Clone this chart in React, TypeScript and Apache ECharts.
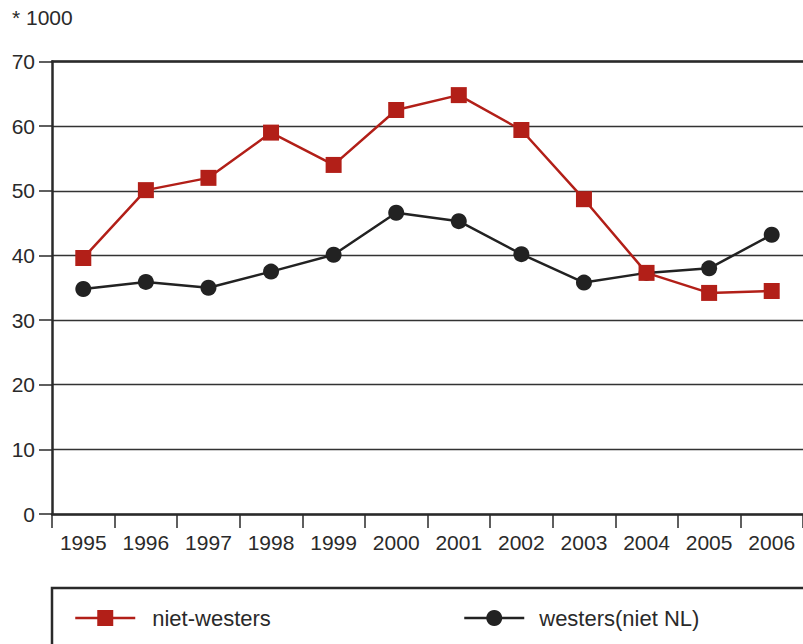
import React, { useEffect, useRef } from "react";
import * as echarts from "echarts";

const years = ["1995", "1996", "1997", "1998", "1999", "2000", "2001", "2002", "2003", "2004", "2005", "2006"];
const nietWesters = [39.6, 50.1, 52.0, 59.0, 54.0, 62.5, 64.8, 59.4, 48.7, 37.3, 34.2, 34.5];
const westers = [34.8, 35.9, 35.0, 37.5, 40.1, 46.6, 45.3, 40.2, 35.8, 37.3, 38.0, 43.2];
const unitLabel = "* 1000";

const FONT = "Liberation Sans";
const DARK = "#2a2a2a";
const RED = "#b21f18";

export default function App() {
  const ref = useRef<HTMLDivElement>(null);
  useEffect(() => {
    const chart = echarts.init(ref.current!, undefined, { renderer: "svg" });
    chart.setOption({
      animation: false,
      textStyle: { fontFamily: FONT },
      grid: { left: 52, top: 61.5, bottom: 130, width: 756, containLabel: false },
      graphic: [
        { type: "text", left: 12, top: 7, style: { text: unitLabel, font: `21px ${FONT}`, fill: DARK } },
        {
          type: "rect",
          shape: { x: 52, y: 588, width: 800, height: 120 },
          style: { fill: "none", stroke: DARK, lineWidth: 2.5 },
        },
      ],
      legend: [
        {
          data: ["niet-westers"],
          left: 69,
          top: 602,
          itemWidth: 60,
          itemHeight: 20,
          lineStyle: { width: 2.5 },
          textStyle: { fontSize: 22, color: DARK, fontFamily: FONT, padding: [0, 0, 0, 12] },
        },
        {
          data: ["westers(niet NL)"],
          left: 458,
          top: 602,
          itemWidth: 60,
          itemHeight: 20,
          lineStyle: { width: 2.5 },
          textStyle: { fontSize: 22, color: DARK, fontFamily: FONT, padding: [0, 0, 0, 10] },
        },
      ],
      xAxis: [
        {
          type: "category",
          data: years,
          boundaryGap: true,
          axisLine: { lineStyle: { color: DARK, width: 2.5 } },
          axisTick: { show: true, length: 14, lineStyle: { color: DARK, width: 1.5 } },
          axisLabel: { fontSize: 21, color: DARK, margin: 18, fontFamily: FONT },
        },
        {
          type: "category",
          data: years,
          position: "top",
          axisLine: { lineStyle: { color: DARK, width: 2.5 } },
          axisTick: { show: false },
          axisLabel: { show: false },
        },
      ],
      yAxis: {
        type: "value",
        min: 0,
        max: 70,
        interval: 10,
        axisLine: { show: true, lineStyle: { color: DARK, width: 2.5 } },
        axisTick: { show: true, length: 13, lineStyle: { color: DARK, width: 1.5 } },
        axisLabel: { fontSize: 21, color: DARK, margin: 17, fontFamily: FONT },
        splitLine: { show: true, lineStyle: { color: "#333", width: 1.3 } },
      },
      series: [
        {
          name: "niet-westers",
          type: "line",
          data: nietWesters,
          symbol: "rect",
          symbolSize: 16,
          itemStyle: { color: RED },
          lineStyle: { color: RED, width: 2.5 },
          z: 3,
        },
        {
          name: "westers(niet NL)",
          type: "line",
          data: westers,
          symbol: "circle",
          symbolSize: 16,
          itemStyle: { color: "#222" },
          lineStyle: { color: "#222", width: 2.5 },
          z: 2,
        },
      ],
    });
    return () => chart.dispose();
  }, []);
  return <div ref={ref} style={{ width: 803, height: 644, position: "absolute", left: 0, top: 0 }} />;
}
